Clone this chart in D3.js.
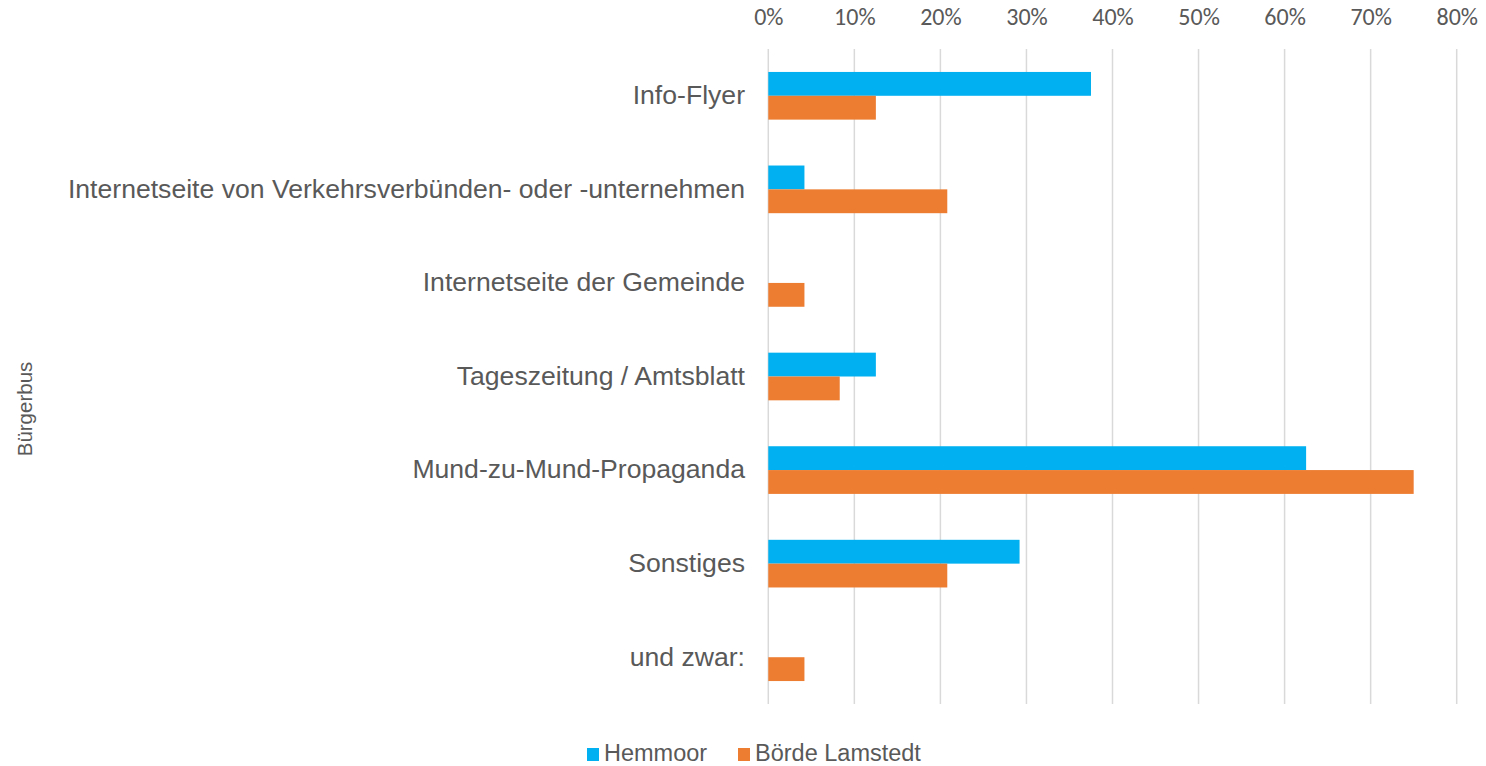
<!DOCTYPE html>
<html><head><meta charset="utf-8">
<script src="https://cdn.jsdelivr.net/npm/d3@7"></script>
<style>body{margin:0;background:#fff}svg{display:block}</style>
</head><body><svg id="c" width="1486" height="766"></svg>
<script>
const categories = ["Info-Flyer","Internetseite von Verkehrsverbünden- oder -unternehmen","Internetseite der Gemeinde","Tageszeitung / Amtsblatt","Mund-zu-Mund-Propaganda","Sonstiges","und zwar:"];
const seriesNames = ["Hemmoor","Börde Lamstedt"];
const hemmoor = [0.375,0.042,0,0.125,0.625,0.292,0];
const boerdeLamstedt = [0.125,0.208,0.042,0.083,0.75,0.208,0.042];
const xTicks = [0,0.1,0.2,0.3,0.4,0.5,0.6,0.7,0.8];
const colors = ["#00B0F0","#ED7D31"];
const axisTitle = "Bürgerbus";

const svg = d3.select("#c");
const x = d3.scaleLinear().domain([0,0.8]).range([768.3,1456.7]);
const y = d3.scaleBand().domain(categories).range([49,704]);
const inner = d3.scaleBand().domain(seriesNames).range([0,y.bandwidth()]).paddingInner(0).paddingOuter(0.963);

// gridlines
svg.append("g").selectAll("line").data(xTicks).join("line")
  .attr("x1",d=>x(d)).attr("x2",d=>x(d)).attr("y1",49).attr("y2",704)
  .attr("stroke","#d9d9d9").attr("stroke-width",1.5);

// top axis labels
const ax = svg.append("g").attr("transform","translate(0,25)")
  .call(d3.axisTop(x).tickValues(xTicks).tickFormat(d3.format(".0%")).tickSize(0).tickPadding(0));
ax.select(".domain").remove();
ax.selectAll("text").attr("dy",null).attr("fill","#595959").style("font-family","Carlito, 'Open Sans', sans-serif").style("font-size","24px");

// bars
const series = [hemmoor, boerdeLamstedt];
series.forEach((vals,si)=>{
  svg.append("g").selectAll("rect").data(categories).join("rect")
    .attr("x",x(0))
    .attr("y",c=>y(c)+inner(seriesNames[si]))
    .attr("height",inner.bandwidth())
    .attr("width",(c,i)=>x(vals[i])-x(0))
    .attr("fill",colors[si]);
});

// category labels
svg.append("g").selectAll("text").data(categories).join("text")
  .attr("x",745).attr("y",c=>y(c)+y.bandwidth()/2+8.4)
  .attr("text-anchor","end")
  .attr("fill","#595959").style("font-family","'Liberation Sans', Arial, sans-serif").style("font-size","26.6px")
  .text(d=>d);

// axis title
svg.append("text").attr("transform","translate(32,409) rotate(-90)")
  .attr("text-anchor","middle")
  .attr("fill","#595959").style("font-family","'Liberation Sans', Arial, sans-serif").style("font-size","20.5px")
  .text(axisTitle);

// legend
const leg = svg.append("g");
const legX = [587,738];
seriesNames.forEach((n,i)=>{
  leg.append("rect").attr("x",legX[i]).attr("y",748).attr("width",12).attr("height",13).attr("fill",colors[i]);
  leg.append("text").attr("x",legX[i]+17).attr("y",761)
    .attr("fill","#595959").style("font-family","'Liberation Sans', Arial, sans-serif").style("font-size","23.5px").text(n);
});
</script></body></html>
